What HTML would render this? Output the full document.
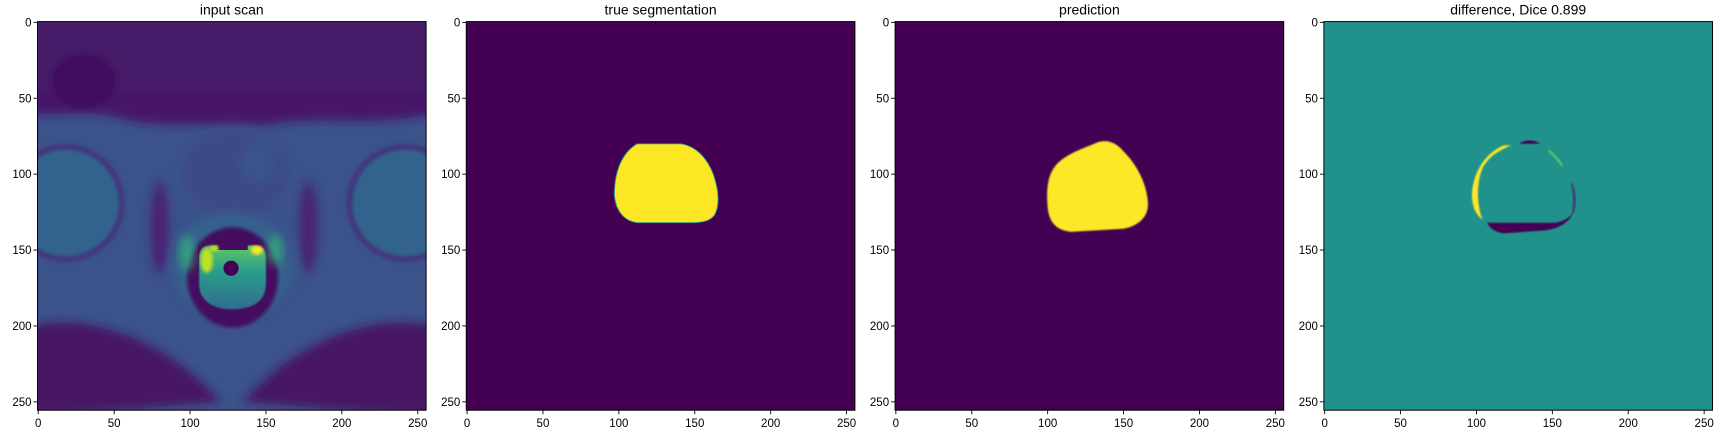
<!DOCTYPE html>
<html><head><meta charset="utf-8"><style>
html,body{margin:0;padding:0;background:#fff}
svg{display:block}
text{font-family:"Liberation Sans",sans-serif;fill:#000}
</style></head><body>
<svg id="fig" width="1728" height="432" viewBox="0 0 1728 432" xmlns="http://www.w3.org/2000/svg">
<defs>
<filter id="b3" x="-20%" y="-20%" width="140%" height="140%"><feGaussianBlur stdDeviation="3"/></filter>
<filter id="b1"><feGaussianBlur stdDeviation="1"/></filter>
<filter id="b05"><feGaussianBlur stdDeviation="0.6"/></filter>
<clipPath id="clipimg"><rect x="-0.5" y="-0.5" width="256" height="256"/></clipPath>
<linearGradient id="rg" x1="0" y1="0" x2="0" y2="1">
<stop offset="0" stop-color="#5ec962"/><stop offset="0.4" stop-color="#2a9d8a"/><stop offset="1" stop-color="#2f6d8e"/>
</linearGradient>
</defs>
<g id="panels"></g>
</svg>
<script>
const titles = ["input scan","true segmentation","prediction","difference, Dice 0.899"];
const tickVals = [0,50,100,150,200,250];
const panelNames = ["input-scan-panel","true-segmentation-panel","prediction-panel","difference-panel"];
const NS="http://www.w3.org/2000/svg";
const L0=37.5, GAP=428.8, TOP=21.6, S=388.6/256;
const root=document.getElementById('panels');
function el(t,a,p){const e=document.createElementNS(NS,t);for(const k in a)e.setAttribute(k,a[k]);(p||root).appendChild(e);return e;}
const truePath="M112,80 L141,80 C153,82 161,93 164,106 C166,114 166,122 163,127 C160,131 155,132 148,132 L112,132 C104,131 98,125 97,114 C97,98 102,86 112,80 Z";
const predPath="M104,96 C110,87 124,83 133,79 C139,77 145,79 150,85 C158,93 165,105 166,118 C167,128 160,134 150,136 L115,138 C106,137 101,132 100,122 C99,110 100,102 104,96 Z";
function scan(g){
  el('rect',{x:-0.5,y:-0.5,width:256,height:256,fill:'#3b528b'},g);
  const s=el('g',{filter:'url(#b3)'},g);
  el('path',{d:"M-5,-5 L261,-5 L261,60 C220,70 180,60 150,68 C120,64 80,72 50,62 C30,58 10,62 -5,60 Z",fill:'#46186a'},s);
  el('rect',{x:-5,y:-5,width:266,height:50,fill:'#461a6b'},s);
  el('ellipse',{cx:30,cy:38,rx:22,ry:18,fill:'#3f0c5e'},s);
  el('path',{d:"M-5,200 C40,190 90,215 120,250 L-5,260 Z",fill:'#471365'},s);
  el('path',{d:"M260,200 C215,190 165,215 135,250 L260,260 Z",fill:'#471365'},s);
  el('ellipse',{cx:130,cy:100,rx:35,ry:28,fill:'#3e4a89'},s);
  el('ellipse',{cx:128,cy:160,rx:40,ry:35,fill:'#35608d'},s);
  el('ellipse',{cx:145,cy:92,rx:12,ry:14,fill:'#3b528b'},s);
  el('ellipse',{cx:80,cy:135,rx:6,ry:30,fill:'#482475'},s);
  el('ellipse',{cx:178,cy:135,rx:6,ry:30,fill:'#482475'},s);
  el('circle',{cx:18,cy:119,r:39,fill:'#43377f'},g).setAttribute('filter','url(#b1)');
  el('circle',{cx:18,cy:119,r:35,fill:'#33638d'},g).setAttribute('filter','url(#b1)');
  el('circle',{cx:242,cy:119,r:39,fill:'#43377f'},g).setAttribute('filter','url(#b1)');
  el('circle',{cx:242,cy:119,r:35,fill:'#33638d'},g).setAttribute('filter','url(#b1)');
  el('ellipse',{cx:128,cy:168,rx:30,ry:33,fill:'#440d5e',filter:'url(#b1)'},g);
  el('path',{d:"M106,156 C106,148 110,147 115,147 L142,147 C148,147 150,150 150,156 L150,172 C150,183 142,189 128,189 C114,189 106,183 106,172 Z",fill:'url(#rg)',filter:'url(#b05)'},g);
  el('path',{d:"M118,146 L138,146 L138,150 L118,150 Z",fill:'#440d5e'},g);
  el('ellipse',{cx:111,cy:157,rx:4,ry:8,fill:'#bddf26',filter:'url(#b1)'},g);
  el('ellipse',{cx:144,cy:150,rx:4,ry:3,fill:'#fde725',filter:'url(#b1)'},g);
  el('ellipse',{cx:116,cy:149,rx:3,ry:2,fill:'#c2df23',filter:'url(#b1)'},g);
  el('circle',{cx:127,cy:162,r:5,fill:'#440154'},g);
  el('ellipse',{cx:98,cy:152,rx:5,ry:12,fill:'#35b779',opacity:0.7,filter:'url(#b3)'},g);
  el('ellipse',{cx:156,cy:150,rx:5,ry:10,fill:'#35b779',opacity:0.7,filter:'url(#b3)'},g);
}
titles.forEach((t,i)=>{
  const x0=L0+i*GAP;
  const pg=el('g',{});
  
  
  const g=el('g',{transform:`translate(${x0+0.5*S},${TOP+0.5*S}) scale(${S})`,'clip-path':'url(#clipimg)'},pg);
  
  
  if(i===0) scan(g);
  else if(i===1){el('rect',{x:-0.5,y:-0.5,width:256,height:256,fill:'#440154'},g);el('path',{d:truePath,fill:'#fde725',stroke:'#21918c','stroke-width':0.6},g);}
  else if(i===2){el('rect',{x:-0.5,y:-0.5,width:256,height:256,fill:'#440154'},g);el('path',{d:predPath,fill:'#fde725',filter:'url(#b05)'},g);}
  else{
    el('rect',{x:-0.5,y:-0.5,width:256,height:256,fill:'#21918c'},g);
    el('path',{d:"M118,81 C106,86 98,98 97,113 C97,122 100,127 104,130 C100,119 100,106 104,96 C108,89 113,85 123,81 Z",fill:'#fde725',filter:'url(#b05)'},g);
    el('path',{d:"M107,132 L152,132 C158,131 162,128 164,125 C161,132 154,136 145,137 L118,139 C112,138 109,136 107,132 Z",fill:'#440154',filter:'url(#b05)'},g);
    el('path',{d:"M128,80 C132,77 138,77 142,80 Z",fill:'#440154',filter:'url(#b05)'},g);
    el('path',{d:"M163,106 C166,112 166,120 164,126 L163,126 C164,118 164,112 162,106 Z",fill:'#46337f',filter:'url(#b05)'},g);
    el('path',{d:"M148,84 C153,88 156,92 157,95 L156,95 C154,92 151,88 147,85 Z",fill:'#5ec962',filter:'url(#b05)'},g);
  }
  el('rect',{x:x0,y:TOP,width:388.6,height:388.6,fill:'none',stroke:'#000','stroke-width':1},pg);
  const tt=el('text',{x:x0+194.3,y:TOP-7,'text-anchor':'middle','font-size':14},pg);
  tt.textContent=t;
  
  
  tickVals.forEach(v=>{
    const p=(v+0.5)*S;
    el('line',{x1:x0+p,x2:x0+p,y1:TOP+388.6,y2:TOP+388.6+4,stroke:'#000','stroke-width':0.9},pg);
    const xl=el('text',{x:x0+p,y:TOP+388.6+17,'text-anchor':'middle','font-size':11.5},pg);
    xl.textContent=v;
    
    
    el('line',{x1:x0-4,x2:x0,y1:TOP+p,y2:TOP+p,stroke:'#000','stroke-width':0.9},pg);
    const yl=el('text',{x:x0-6,y:TOP+p+4,'text-anchor':'end','font-size':11.5},pg);
    yl.textContent=v;
    
    
  });
});
</script>
</body></html>
